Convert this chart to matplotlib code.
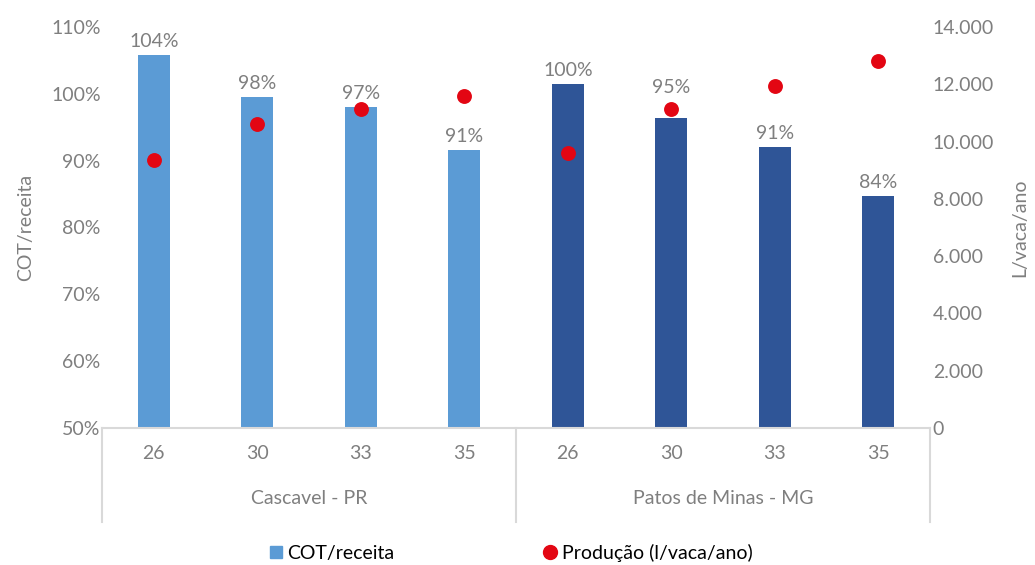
import matplotlib.pyplot as plt
from matplotlib.lines import Line2D
import matplotlib.transforms as mtransforms

plt.rcParams['font.family'] = ['Lato', 'DejaVu Sans']

regions = ['Cascavel - PR', 'Patos de Minas - MG']
cows = ['26', '30', '33', '35', '26', '30', '33', '35']
cot_receita = [105.8, 99.5, 98.0, 91.6, 101.5, 96.4, 92.1, 84.7]
cot_labels = ['104%', '98%', '97%', '91%', '100%', '95%', '91%', '84%']
producao = [9360, 10600, 11150, 11600, 9590, 11130, 11950, 12810]

light_blue = '#5B9BD5'
dark_blue = '#2F5597'
red = '#E30613'
grey = '#7F7F7F'
line_grey = '#D9D9D9'
fs = 14

bar_colors = [light_blue] * 4 + [dark_blue] * 4
# the 95% label is lifted above its dot in the original
label_offsets = [3.5, 3.5, 4, 3.5, 3.5, 16, 3.5, 3.5]
x = list(range(len(cows)))

fig = plt.figure(figsize=(10.35, 5.65), dpi=100)
ax = fig.add_axes([0.0986, 0.2425, 0.80, 0.7097])
ax2 = ax.twinx()

ax.bar(x, cot_receita, width=0.31, color=bar_colors, zorder=2)
ax2.scatter(x, producao, s=115, color=red, zorder=3, linewidths=0)

for xi, v, lab, off in zip(x, cot_receita, cot_labels, label_offsets):
    ax2.annotate(lab, (xi, v), xycoords=ax.transData, xytext=(0, off),
                 textcoords='offset points', ha='center', va='bottom',
                 fontsize=fs, color=grey, zorder=4)

ax.set_ylim(50, 110)
ax.set_yticks(range(50, 111, 10))
ax.set_yticklabels([f'{t}%' for t in range(50, 111, 10)])
ax.set_xlim(-0.5, 7.5)
ax.set_xticks(x)
ax.set_xticklabels(cows)

ax2.set_ylim(0, 14000)
ax2.set_yticks(range(0, 14001, 2000))
ax2.set_yticklabels(['0'] + [f'{t // 1000}.000' for t in range(2000, 14001, 2000)])

for a in (ax, ax2):
    for s in ['top', 'left', 'right', 'bottom']:
        a.spines[s].set_visible(False)
    a.tick_params(length=0, labelsize=fs, colors=grey)
ax.tick_params(axis='x', pad=12)
ax.tick_params(axis='y', pad=1)
ax2.tick_params(axis='y', pad=2)

ax.set_ylabel('COT/receita', fontsize=fs, color=grey, labelpad=12)
ax2.set_ylabel('L/vaca/ano', fontsize=fs, color=grey, rotation=90, labelpad=12)

# category axis lines
trans = mtransforms.blended_transform_factory(ax.transData, ax.transAxes)
ax.plot([-0.5, 7.5], [0, 0], transform=trans, color=line_grey, lw=1.5, clip_on=False)
for bx in [-0.5, 3.5, 7.5]:
    ax.plot([bx, bx], [0, -0.235], transform=trans, color=line_grey, lw=1.5, clip_on=False)
for i, reg in enumerate(regions):
    ax.text(1.5 + 4 * i, -0.175, reg, transform=trans, ha='center', va='center',
            fontsize=fs, color=grey)

handles = [
    Line2D([], [], marker='s', linestyle='none', color=light_blue, markersize=8),
    Line2D([], [], marker='o', linestyle='none', color=red, markersize=10),
]
fig.legend(handles, ['COT/receita', 'Produção (l/vaca/ano)'], loc='center',
           bbox_to_anchor=(0.494, 0.022), ncol=2, frameon=False, fontsize=fs,
           handlelength=0.6, handletextpad=0.3, columnspacing=7.7,
           labelcolor='black')

fig.savefig('out.png', dpi=100)
